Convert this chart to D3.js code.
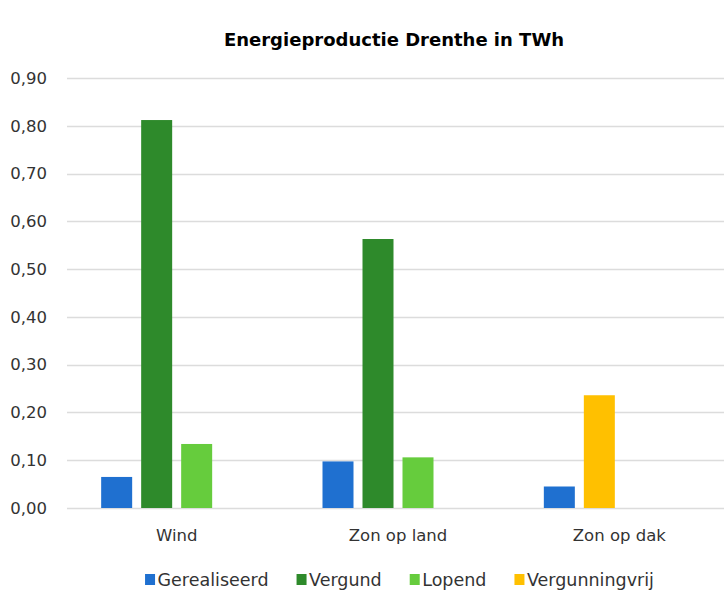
<!DOCTYPE html>
<html>
<head>
<meta charset="utf-8">
<script src="https://cdn.jsdelivr.net/npm/d3@7"></script>
<style>
  html, body { margin: 0; padding: 0; background: #ffffff; }
  svg { display: block; }
  text { font-family: "DejaVu Sans", sans-serif; }
</style>
</head>
<body>
<svg id="chart" width="724" height="592"></svg>
<script>
// ---- data ----
const categories = ["Wind", "Zon op land", "Zon op dak"];
const seriesNames = ["Gerealiseerd", "Vergund", "Lopend", "Vergunningvrij"];
const gerealiseerd = [0.065, 0.0975, 0.045];
const vergund = [0.812, 0.563, 0];
const lopend = [0.134, 0.106, 0];
const vergunningvrij = [0, 0, 0.236];
// column slot each series occupies inside a category (Vergunningvrij shares Vergund's column)
const seriesSlot = [0, 1, 2, 1];
const slotKeys = [0, 1, 2, 3];
const yTicks = [0, 0.1, 0.2, 0.3, 0.4, 0.5, 0.6, 0.7, 0.8, 0.9];
const title = "Energieproductie Drenthe in TWh";

const seriesValues = [gerealiseerd, vergund, lopend, vergunningvrij];
const colors = ["#1f70d0", "#2e8a2b", "#66cc3d", "#ffc000"];

// ---- layout ----
const W = 724, H = 592;
const plot = { left: 66, right: 730, top: 78, bottom: 508 };
const svg = d3.select("#chart");

const x0 = d3.scaleBand().domain(categories).range([plot.left, plot.right]).padding(0);
const groupW = 151;
const x1 = d3.scaleBand().domain(slotKeys)
  .range([(x0.bandwidth() - groupW) / 2, (x0.bandwidth() + groupW) / 2])
  .paddingInner(0.225).paddingOuter(0);
const y = d3.scaleLinear().domain([0, 0.9]).range([plot.bottom, plot.top]);

// gridlines
svg.append("g").selectAll("line").data(yTicks).join("line")
  .attr("x1", 67).attr("x2", W)
  .attr("y1", d => Math.round(y(d)) + 0.5).attr("y2", d => Math.round(y(d)) + 0.5)
  .attr("stroke", "#dcdcdc").attr("stroke-width", 1.3);

// y axis labels
const fmt = d => d3.format(".2f")(d).replace(".", ",");
const yAxis = d3.axisLeft(y).tickValues(yTicks).tickFormat(fmt).tickSize(0).tickPadding(0);
const yg = svg.append("g").attr("transform", "translate(47,0)").call(yAxis);
yg.select(".domain").remove();
yg.selectAll("text").attr("font-size", 16.5).attr("fill", "#333")
  .attr("font-family", "DejaVu Sans, sans-serif");

// bars
const bars = [];
categories.forEach((c, ci) => {
  seriesValues.forEach((vals, si) => {
    if (vals[ci] > 0) bars.push({ cat: c, series: si, value: vals[ci] });
  });
});
svg.append("g").selectAll("rect").data(bars).join("rect")
  .attr("x", d => x0(d.cat) + x1(seriesSlot[d.series]))
  .attr("width", x1.bandwidth())
  .attr("y", d => y(d.value))
  .attr("height", d => y(0) - y(d.value))
  .attr("fill", d => colors[d.series]);

// x axis labels
const xAxis = d3.axisBottom(x0).tickSize(0).tickPadding(0);
const xg = svg.append("g").attr("transform", "translate(0,541)").call(xAxis);
xg.select(".domain").remove();
xg.selectAll("text").attr("dy", 0).attr("font-size", 16.5).attr("fill", "#333")
  .attr("font-family", "DejaVu Sans, sans-serif");

// title
svg.append("text").attr("x", 394).attr("y", 46).attr("text-anchor", "middle")
  .attr("font-size", 18).attr("font-weight", "bold").attr("fill", "#000")
  .text(title);

// legend
const lg = svg.append("g");
const items = lg.selectAll("g").data(seriesNames).join("g");
items.append("rect").attr("width", 10).attr("height", 11).attr("y", 574)
  .attr("fill", (d, i) => colors[i]);
items.append("text").attr("x", 12.5).attr("y", 585.5).attr("font-size", 17.5)
  .attr("fill", "#333").text(d => d);
let xs = [], cur = 0;
const gap = 28;
items.each(function () {
  xs.push(cur);
  cur += 12.5 + this.querySelector("text").getComputedTextLength() + gap;
});
const total = cur - gap;
const start = 399.5 - total / 2;
items.attr("transform", (d, i) => `translate(${start + xs[i]},0)`);
</script>
</body>
</html>
